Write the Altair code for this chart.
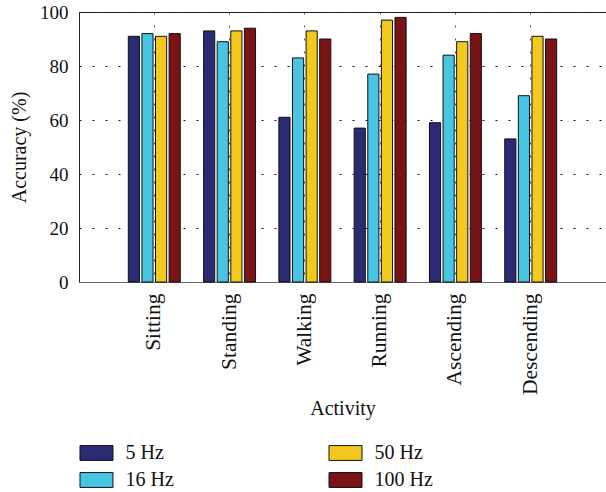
import altair as alt
import pandas as pd

# Recognition accuracy per activity at four sampling rates
activities = ["Sitting", "Standing", "Walking", "Running", "Ascending", "Descending"]
rates = ["5 Hz", "16 Hz", "50 Hz", "100 Hz"]
acc_5hz = [91, 93, 61, 57, 59, 53]
acc_16hz = [92, 89, 83, 77, 84, 69]
acc_50hz = [91, 93, 93, 97, 89, 91]
acc_100hz = [92, 94, 90, 98, 92, 90]
rate_colors = ["#2a2b73", "#48c5e3", "#f3c91f", "#7a1316"]

rows = []
for rate, values in zip(rates, [acc_5hz, acc_16hz, acc_50hz, acc_100hz]):
    for activity, value in zip(activities, values):
        rows.append({"Activity": activity, "Rate": rate, "Accuracy": value})
df = pd.DataFrame(rows)

FONT = "Liberation Serif"
SWATCH = "M-2,-0.9H2V0.9H-2Z"

chart = (
    alt.Chart(df)
    .mark_bar(stroke="#111111", strokeWidth=1)
    .encode(
        x=alt.X(
            "Activity:N",
            sort=activities,
            title="Activity",
            scale=alt.Scale(paddingInner=0.31, paddingOuter=0.655),
            axis=alt.Axis(
                labelAngle=-90,
                labelFont=FONT,
                labelFontSize=21.5,
                labelColor="#111111",
                labelPadding=11,
                ticks=False,
                domainColor="#666666",
                grid=True,
                gridDash=[2, 11],
                gridColor="#555555",
                bandPosition=0.5,
                titleFont=FONT,
                titleFontSize=20,
                titleFontWeight="normal",
                titleColor="#111111",
                titlePadding=4,
            ),
        ),
        xOffset=alt.XOffset(
            "Rate:N", sort=rates, scale=alt.Scale(paddingInner=0.18, paddingOuter=0)
        ),
        y=alt.Y(
            "Accuracy:Q",
            title="Accuracy (%)",
            scale=alt.Scale(domain=[0, 100], nice=False),
            axis=alt.Axis(
                values=[0, 20, 40, 60, 80, 100],
                labelFont=FONT,
                labelFontSize=19,
                labelColor="#111111",
                labelPadding=11,
                ticks=False,
                domain=False,
                grid=True,
                gridDash=[2, 11],
                gridColor="#111111",
                titleFont=FONT,
                titleFontSize=20,
                titleFontWeight="normal",
                titleColor="#111111",
                titlePadding=10,
            ),
        ),
        color=alt.Color(
            "Rate:N",
            scale=alt.Scale(domain=rates, range=rate_colors),
            legend=alt.Legend(
                title=None,
                orient="none",
                legendX=7.5,
                legendY=431,
                columns=2,
                columnPadding=152,
                rowPadding=7,
                padding=0,
                symbolType=SWATCH,
                symbolSize=272,
                symbolStrokeColor="#111111",
                symbolStrokeWidth=1,
                symbolOpacity=1,
                labelFont=FONT,
                labelFontSize=20,
                labelColor="#111111",
                labelOffset=19,
            ),
        ),
    )
    .properties(
        width=527,
        height=270,
        autosize=alt.AutoSizeParams(type="none"),
        padding={"left": 79, "top": 12, "right": 0, "bottom": 210},
    )
    .configure_view(stroke="#222222", strokeWidth=1)
)

chart.save("out.html", embed_options={"renderer": "svg", "actions": False})
